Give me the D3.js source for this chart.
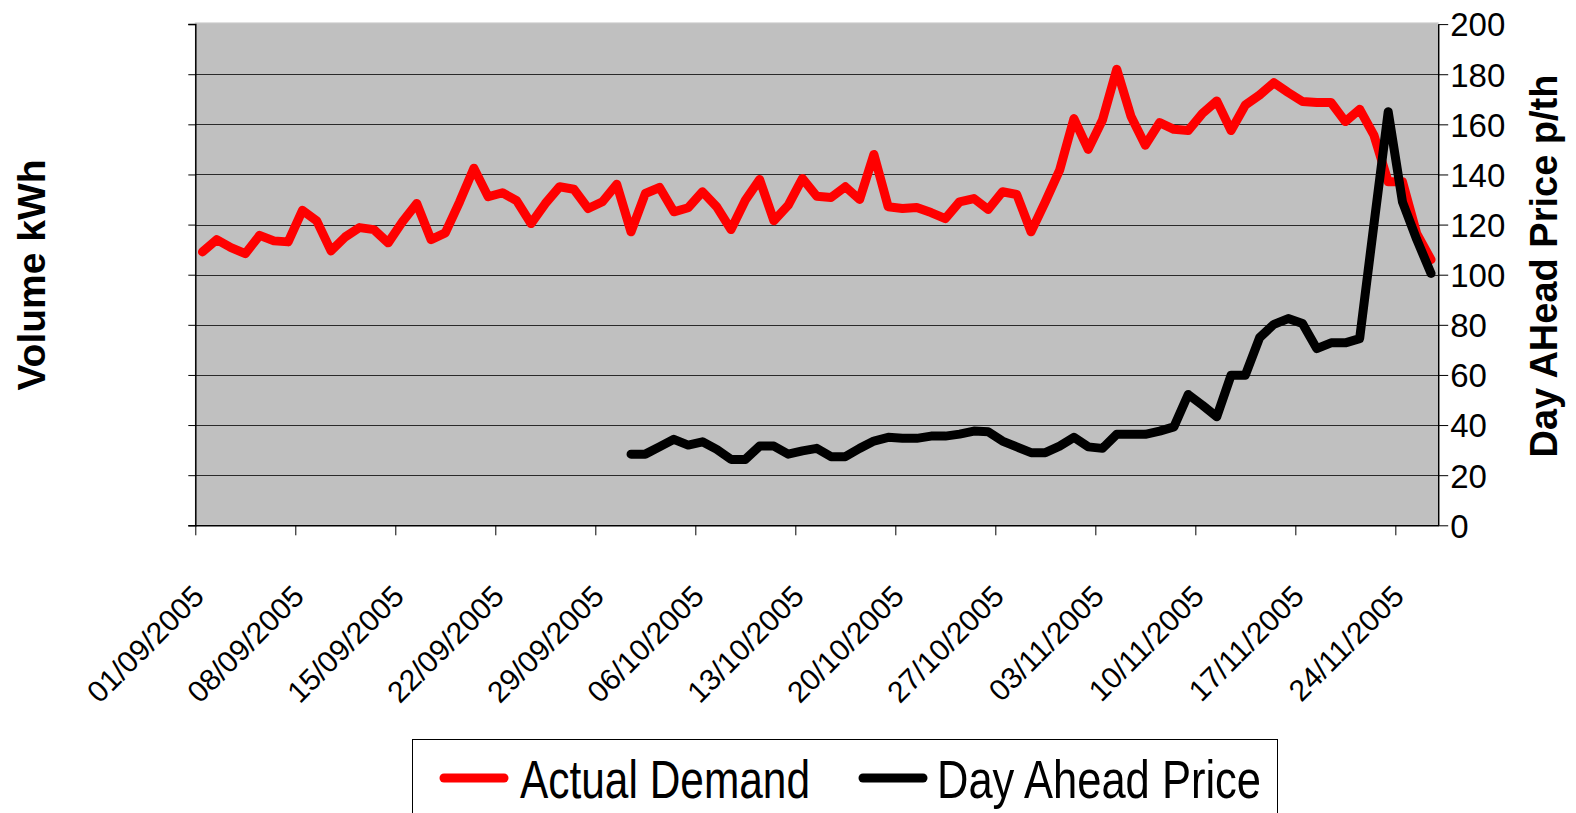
<!DOCTYPE html>
<html>
<head>
<meta charset="utf-8">
<script src="https://cdn.jsdelivr.net/npm/d3@7"></script>
<style>
  html, body { margin: 0; padding: 0; background: #fff; }
  svg { display: block; font-family: "Liberation Sans", Arial, sans-serif; }
</style>
</head>
<body>
<svg id="chart" width="1576" height="813"></svg>
<script>
// ---- Data ----
const startDate = "2005-09-01";
const tickLabels = ["01/09/2005","08/09/2005","15/09/2005","22/09/2005","29/09/2005","06/10/2005",
  "13/10/2005","20/10/2005","27/10/2005","03/11/2005","10/11/2005","17/11/2005","24/11/2005"];
const yTicks = [0,20,40,60,80,100,120,140,160,180,200];

// Actual Demand, one value per day from 01/09/2005 to 26/11/2005
const actualDemand = [
  109.1,114,110.8,108.4,115.7,113.5,113.1,125.7,121.5,109.5,
  115.1,118.8,118,112.7,121.1,128.4,114,116.7,129.1,142.5,
  131.1,132.7,129.5,120.4,128.4,135.1,134.1,126.4,129.1,136.1,
  117.1,132.4,134.8,125.1,126.7,133.1,127.1,118,129.7,138,
  121.5,127.7,138.4,131.3,130.8,135.1,130,148,127.1,126.4,
  126.8,124.8,122.4,129.1,130.4,126,133.1,132,117.1,129.1,
  141.7,162.3,150,161.7,182,163.1,151.7,160.7,158,157.5,
  164.4,169.3,157.5,167.7,171.7,176.6,172.7,169.1,168.7,168.7,
  161.1,166,155.7,137.1,137.1,116.4,106
];
// Day Ahead Price, starts 01/10/2005 (first 30 days have no value)
const dayAheadPrice = [
  null,null,null,null,null,null,null,null,null,null,
  null,null,null,null,null,null,null,null,null,null,
  null,null,null,null,null,null,null,null,null,null,
  28.4,28.4,31.3,34.3,32,33.3,30.3,26.3,26.3,31.6,
  31.6,28.4,29.7,30.7,27.4,27.4,30.7,33.6,35.1,34.7,
  34.7,35.6,35.6,36.4,37.6,37.3,33.6,31.3,29,29,
  31.6,35.1,31.3,30.7,36.3,36.3,36.3,37.6,39.3,52.2,
  47.9,43.3,59.9,59.9,74.9,80.2,82.5,80.5,70.5,72.8,
  72.8,74.5,120,165,129,114,100.5
];

// ---- Layout ----
const X0 = 195.3, X1 = 1438.2, YB = 525.3, YT = 24.1;
const svg = d3.select("#chart");
const DAY = 86400000;
const d0 = new Date(startDate + "T00:00:00Z");
const nDays = actualDemand.length;

const x = d3.scaleUtc()
  .domain([d0, new Date(d0.getTime() + nDays * DAY)])
  .range([X0, X1]);
const y = d3.scaleLinear().domain([0, 200]).range([YB, YT]);

const dateOf = i => new Date(d0.getTime() + i * DAY);
const midOf = i => new Date(d0.getTime() + (i + 0.5) * DAY);

// Plot background
svg.append("rect")
  .attr("x", X0).attr("y", YT - 1.4)
  .attr("width", X1 - X0).attr("height", YB - YT + 1.4)
  .attr("fill", "#c0c0c0")
  .attr("stroke", "#dcdcdc").attr("stroke-width", 1);

// Gridlines
svg.append("g").selectAll("line")
  .data(yTicks.filter(v => v > 0 && v < 200))
  .join("line")
  .attr("x1", X0).attr("x2", X1)
  .attr("y1", d => Math.round(y(d)) + 0.5).attr("y2", d => Math.round(y(d)) + 0.5)
  .attr("stroke", "#2a2a2a").attr("stroke-width", 1);

// Left axis (no labels)
const leftAxis = svg.append("g")
  .attr("transform", `translate(${X0},0)`)
  .call(d3.axisLeft(y).tickValues(yTicks).tickSize(7).tickFormat(""));
leftAxis.select(".domain").attr("stroke", "#000").attr("stroke-width", 1.5);

// Right axis
const rightAxis = svg.append("g")
  .attr("transform", `translate(${X1},0)`)
  .call(d3.axisRight(y).tickValues(yTicks).tickSize(10).tickPadding(2).tickSizeOuter(0));
rightAxis.select(".domain").attr("stroke", "#000").attr("stroke-width", 1.5);
rightAxis.selectAll(".tick line").attr("stroke", "#000");
rightAxis.selectAll("text")
  .attr("font-size", 33).attr("fill", "#000")
  .attr("font-family", "Liberation Sans, Arial, sans-serif")
  .attr("dy", "0.36em");

// Bottom axis
const tickDates = tickLabels.map((_, i) => dateOf(i * 7));
const bottomAxis = svg.append("g")
  .attr("transform", `translate(0,${YB})`)
  .call(d3.axisBottom(x).tickValues(tickDates).tickSize(10).tickSizeOuter(0)
    .tickFormat((d, i) => tickLabels[i]));
bottomAxis.select(".domain").attr("stroke", "#000").attr("stroke-width", 1.5);
bottomAxis.selectAll(".tick line").attr("stroke", "#000");
bottomAxis.selectAll("text")
  .attr("y", null).attr("dy", null).attr("x", null)
  .attr("text-anchor", "end")
  .attr("font-size", 30).attr("fill", "#000")
  .attr("font-family", "Liberation Sans, Arial, sans-serif")
  .attr("transform", "translate(10,73) rotate(-45)");

// Lines
const demandData = actualDemand.map((v, i) => ({ t: midOf(i), v }));
const priceData = dayAheadPrice.map((v, i) => ({ t: midOf(i), v }));
const line = d3.line()
  .defined(d => d.v != null)
  .x(d => x(d.t)).y(d => y(d.v));

svg.append("path").datum(demandData)
  .attr("d", line).attr("fill", "none")
  .attr("stroke", "#ff0000").attr("stroke-width", 9)
  .attr("stroke-linejoin", "round").attr("stroke-linecap", "round");

svg.append("path").datum(priceData)
  .attr("d", line).attr("fill", "none")
  .attr("stroke", "#000000").attr("stroke-width", 9)
  .attr("stroke-linejoin", "round").attr("stroke-linecap", "round");

// Axis titles
svg.append("text")
  .attr("transform", "translate(45,275) rotate(-90)")
  .attr("text-anchor", "middle")
  .attr("font-size", 39).attr("font-weight", "bold")
  .text("Volume kWh");

svg.append("text")
  .attr("transform", "translate(1557,266) rotate(-90)")
  .attr("text-anchor", "middle")
  .attr("font-size", 38).attr("font-weight", "bold")
  .text("Day AHead Price p/th");

// Legend
const legend = svg.append("g");
legend.append("rect")
  .attr("x", 412.5).attr("y", 739.5).attr("width", 865).attr("height", 100)
  .attr("fill", "#fff").attr("stroke", "#000").attr("stroke-width", 1);
const legendItems = [
  { name: "Actual Demand", color: "#ff0000", lx: 444, tx: 520, tw: 290 },
  { name: "Day Ahead Price", color: "#000000", lx: 863, tx: 937, tw: 324 }
];
legendItems.forEach(it => {
  legend.append("line")
    .attr("x1", it.lx).attr("x2", it.lx + 60)
    .attr("y1", 778).attr("y2", 778)
    .attr("stroke", it.color).attr("stroke-width", 9).attr("stroke-linecap", "round");
  legend.append("text")
    .attr("x", it.tx).attr("y", 798)
    .attr("font-size", 54)
    .attr("textLength", it.tw).attr("lengthAdjust", "spacingAndGlyphs")
    .text(it.name);
});
</script>
</body>
</html>
